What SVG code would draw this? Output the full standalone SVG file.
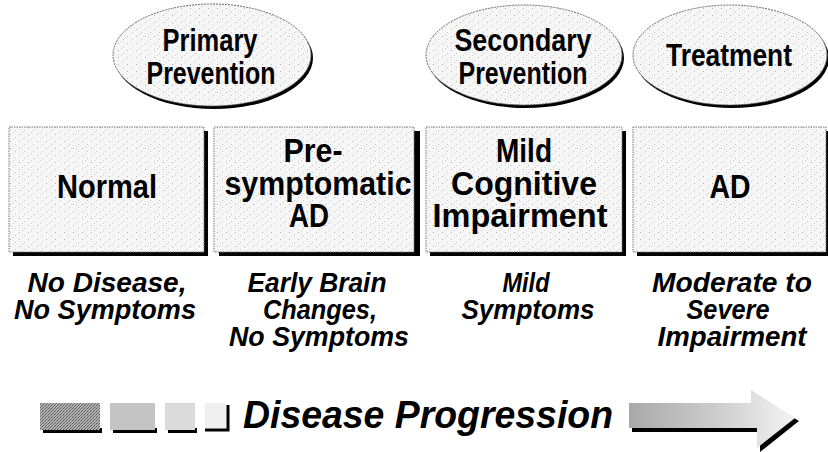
<svg xmlns="http://www.w3.org/2000/svg" width="828" height="452" viewBox="0 0 828 452">
<style>
.t{font-family:"Liberation Sans",Arial,sans-serif;font-weight:bold;text-anchor:middle;fill:#000}
.eh{font-size:31px}
.bx{font-size:33px}
.lb{font-size:28px;font-style:italic}
.pg{font-size:38px;font-style:italic;text-anchor:start}
.ell{fill:url(#speck);stroke:#666;stroke-width:1;stroke-dasharray:2,1}
.esh{fill:#000}
.box{fill:url(#speck);stroke:#777;stroke-width:1;stroke-dasharray:1.5,1}
.bsh{fill:#000}
</style>
<defs>
<pattern id="speck" width="9" height="7" patternUnits="userSpaceOnUse">
<rect width="9" height="7" fill="#f6f6f6"/>
<rect x="1" y="1" width="1" height="1" fill="#b5b5b5"/>
<rect x="6" y="4" width="1" height="1" fill="#c8c8c8"/>
<rect x="4" y="6" width="1" height="1" fill="#d0d0d0"/>
</pattern>
<pattern id="dark" width="3" height="3" patternUnits="userSpaceOnUse">
<rect width="3" height="3" fill="#b0b0b0"/>
<rect x="0" y="0" width="1" height="1" fill="#555"/>
<rect x="2" y="1" width="1" height="1" fill="#777"/>
<rect x="1" y="2" width="1" height="1" fill="#666"/>
</pattern>
<linearGradient id="arrowGrad" x1="0" y1="0" x2="1" y2="0">
<stop offset="0" stop-color="#a8a8a8"/>
<stop offset="0.6" stop-color="#d2d2d2"/>
<stop offset="1" stop-color="#f4f4f4"/>
</linearGradient>
</defs>

<g id="primary-prevention">
<ellipse class="esh" cx="214" cy="58" rx="99" ry="51"/>
<ellipse class="ell" cx="212" cy="55" rx="99" ry="51"/>
<text class="t eh" x="210" y="51" textLength="95" lengthAdjust="spacingAndGlyphs">Primary</text>
<text class="t eh" x="211" y="84" textLength="129" lengthAdjust="spacingAndGlyphs">Prevention</text>
</g>
<g id="secondary-prevention">
<ellipse class="esh" cx="526" cy="58" rx="98" ry="50"/>
<ellipse class="ell" cx="524" cy="55" rx="98" ry="50"/>
<text class="t eh" x="523" y="51" textLength="137" lengthAdjust="spacingAndGlyphs">Secondary</text>
<text class="t eh" x="523" y="84" textLength="129" lengthAdjust="spacingAndGlyphs">Prevention</text>
</g>
<g id="treatment">
<ellipse class="esh" cx="732" cy="58" rx="97" ry="50"/>
<ellipse class="ell" cx="730" cy="55" rx="97" ry="50"/>
<text class="t eh" x="729" y="66" textLength="126" lengthAdjust="spacingAndGlyphs">Treatment</text>
</g>

<g id="normal">
<rect class="bsh" x="13" y="131" width="195" height="125"/>
<rect class="box" x="9" y="127" width="195" height="125"/>
<text class="t bx" x="107" y="198" textLength="100" lengthAdjust="spacingAndGlyphs">Normal</text>
<text class="t lb" x="107" y="292" textLength="159" lengthAdjust="spacingAndGlyphs">No Disease,</text>
<text class="t lb" x="105" y="319" textLength="182" lengthAdjust="spacingAndGlyphs">No Symptoms</text>
</g>
<g id="presymptomatic-ad">
<rect class="bsh" x="219" y="131" width="201" height="125"/>
<rect class="box" x="214" y="127" width="200" height="125"/>
<text class="t bx" x="313" y="162" textLength="59" lengthAdjust="spacingAndGlyphs">Pre-</text>
<text class="t bx" x="318" y="195" textLength="187" lengthAdjust="spacingAndGlyphs">symptomatic</text>
<text class="t bx" x="309" y="227" textLength="40" lengthAdjust="spacingAndGlyphs">AD</text>
<text class="t lb" x="317" y="292" textLength="139" lengthAdjust="spacingAndGlyphs">Early Brain</text>
<text class="t lb" x="320" y="319" textLength="114" lengthAdjust="spacingAndGlyphs">Changes,</text>
<text class="t lb" x="319" y="346" textLength="180" lengthAdjust="spacingAndGlyphs">No Symptoms</text>
</g>
<g id="mild-cognitive-impairment">
<rect class="bsh" x="430" y="131" width="196" height="125"/>
<rect class="box" x="426" y="127" width="196" height="125"/>
<text class="t bx" x="524" y="162" textLength="56" lengthAdjust="spacingAndGlyphs">Mild</text>
<text class="t bx" x="524" y="195" textLength="146" lengthAdjust="spacingAndGlyphs">Cognitive</text>
<text class="t bx" x="520" y="227" textLength="175" lengthAdjust="spacingAndGlyphs">Impairment</text>
<text class="t lb" x="526" y="292" textLength="47" lengthAdjust="spacingAndGlyphs">Mild</text>
<text class="t lb" x="528" y="319" textLength="133" lengthAdjust="spacingAndGlyphs">Symptoms</text>
</g>
<g id="ad">
<rect class="bsh" x="637" y="131" width="194" height="125"/>
<rect class="box" x="633" y="127" width="193" height="125"/>
<text class="t bx" x="730" y="198" textLength="41" lengthAdjust="spacingAndGlyphs">AD</text>
<text class="t lb" x="732" y="292" textLength="160" lengthAdjust="spacingAndGlyphs">Moderate to</text>
<text class="t lb" x="728" y="319" textLength="83" lengthAdjust="spacingAndGlyphs">Severe</text>
<text class="t lb" x="732" y="346" textLength="149" lengthAdjust="spacingAndGlyphs">Impairment</text>
</g>

<g id="progression">
<rect x="43" y="428" width="59" height="5" fill="#000"/>
<rect x="40" y="403" width="60" height="27" fill="url(#dark)"/>
<rect x="113" y="428" width="44" height="5" fill="#000"/>
<rect x="110" y="403" width="45" height="27" fill="#c4c4c4"/>
<rect x="168" y="428" width="29" height="5" fill="#000"/>
<rect x="165" y="403" width="30" height="27" fill="#dadada"/>
<path d="M205,430 H228 V405" fill="none" stroke="#000" stroke-width="3"/>
<rect x="205" y="403" width="21" height="25" fill="#f0f0f0"/>
<text class="t pg" x="243" y="428" textLength="370" lengthAdjust="spacingAndGlyphs">Disease Progression</text>
<polygon points="632,407 755,407 755,394 799,421 760,452 760,432 632,432" fill="#000"/>
<polygon points="629,403 751,403 751,390 795,418 757,448 757,428 629,428" fill="url(#arrowGrad)"/>
</g>
</svg>
